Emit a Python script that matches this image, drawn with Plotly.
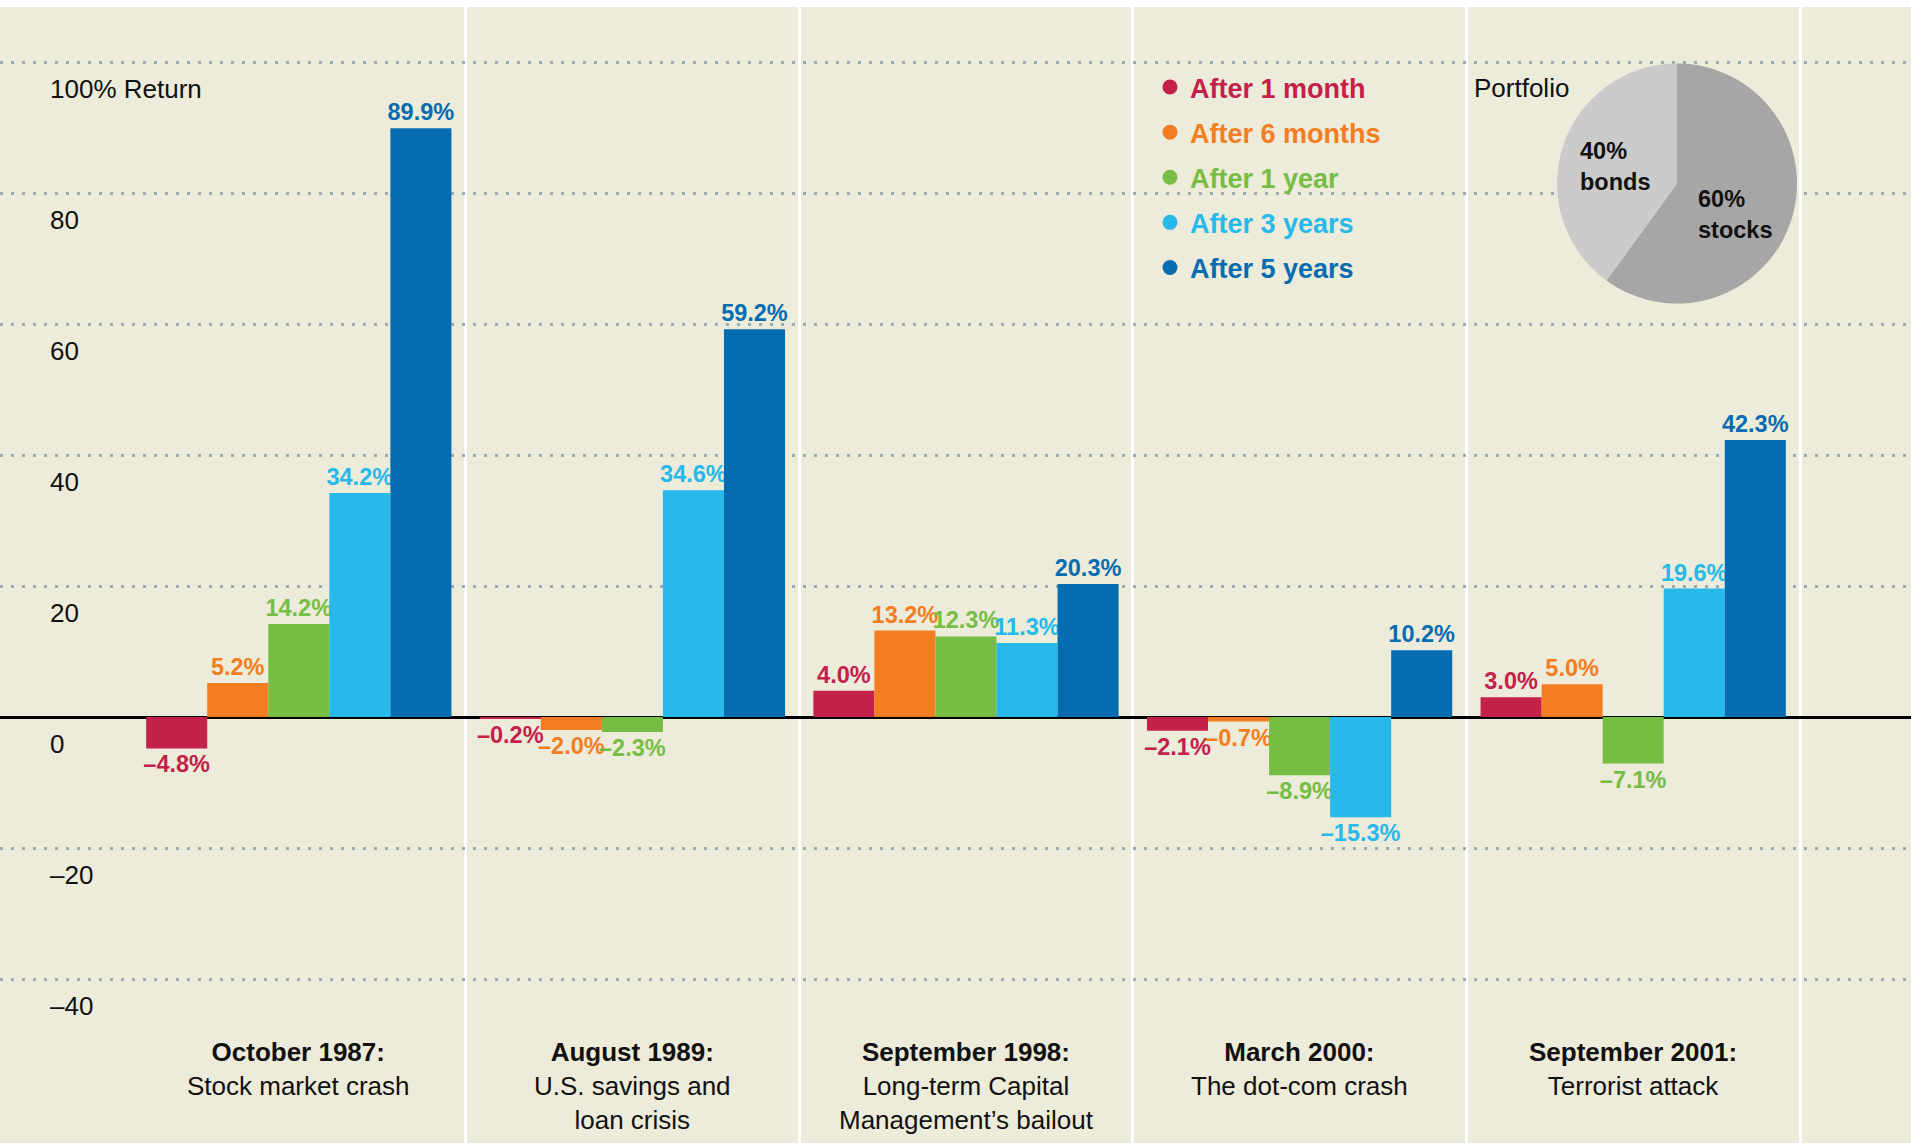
import plotly.graph_objects as go

# ---------------- data ----------------
events = ["October 1987:", "August 1989:", "September 1998:", "March 2000:", "September 2001:"]
event_desc = ["Stock market crash", "U.S. savings and<br>loan crisis",
              "Long-term Capital<br>Management’s bailout", "The dot-com crash", "Terrorist attack"]
series_names = ["After 1 month", "After 6 months", "After 1 year", "After 3 years", "After 5 years"]
after_1_month = [-4.8, -0.2, 4.0, -2.1, 3.0]
after_6_months = [5.2, -2.0, 13.2, -0.7, 5.0]
after_1_year = [14.2, -2.3, 12.3, -8.9, -7.1]
after_3_years = [34.2, 34.6, 11.3, -15.3, 19.6]
after_5_years = [89.9, 59.2, 20.3, 10.2, 42.3]
y_tickvals = [-40, -20, 0, 20, 40, 60, 80, 100]
y_ticktext = ["–40", "–20", "0", "20", "40", "60", "80", "100% Return"]
portfolio_labels = ["stocks", "bonds"]
portfolio_shares = [60, 40]

# ---------------- styles ----------------
series_values = [after_1_month, after_6_months, after_1_year, after_3_years, after_5_years]
series_colors = ["#C4204A", "#F37E21", "#76BE43", "#26B9EA", "#066CB2"]
pie_colors = ["#A6A6A6", "#CBCBCB"]
BG = "#EDEBD9"
FONT = "Liberation Sans, Arial, Helvetica, sans-serif"
W, H = 1911, 1144
MT, MB, ML, MR = 7, 1, 0, 0
PH = H - MT - MB


def px_x(px):
    return (px - ML) / (W - ML - MR)


def px_y(py):
    return (H - MB - py) / PH


def fmt(v):
    return f"{v:.1f}%".replace("-", "–")


fig = go.Figure()

for name, vals, col in zip(series_names, series_values, series_colors):
    fig.add_trace(go.Bar(
        x=events, y=vals, name=name, marker=dict(color=col, line=dict(width=0)),
        text=[fmt(v) for v in vals], textposition="outside", cliponaxis=False,
        textfont=dict(color=col, size=23.5, family=FONT, weight="bold"),
        constraintext="none", showlegend=False, hoverinfo="skip",
    ))

# legend entries with round dots
for i, (name, col) in enumerate(zip(series_names, series_colors)):
    fig.add_trace(go.Scatter(
        x=[None], y=[None], mode="markers", legendgroup=f"g{i}",
        marker=dict(symbol="circle", size=15, color=col),
        name=f"<span style='color:{col}'><b>{name}</b></span>",
        showlegend=True, hoverinfo="skip",
    ))

# portfolio pie
cx, cy, r = 1677, 183.5, 120
fig.add_trace(go.Pie(
    labels=portfolio_labels, values=portfolio_shares, sort=False, direction="clockwise",
    rotation=0, marker=dict(colors=pie_colors, line=dict(width=0)),
    textinfo="none", hoverinfo="skip", showlegend=False,
    domain=dict(x=[px_x(cx - r), px_x(cx + r)], y=[px_y(cy + r), px_y(cy - r)]),
))

annotations = []
# category labels
for ev, desc in zip(events, event_desc):
    annotations.append(dict(
        x=ev, xref="x", y=px_y(1035), yref="paper", yanchor="top", xanchor="center",
        text=f"<b>{ev}</b><br>{desc}", showarrow=False, align="center",
        font=dict(size=26, color="#111111", family=FONT),
    ))
# pie labels
pie_label_pos = {"bonds": (1578, 166), "stocks": (1696, 215)}
for lab, share in zip(portfolio_labels, portfolio_shares):
    lx, ly = pie_label_pos[lab]
    annotations.append(dict(
        x=px_x(lx), y=px_y(ly), xref="paper", yref="paper", xanchor="left", yanchor="middle",
        text=f"<b>{share}%<br>{lab}</b>", showarrow=False, align="left",
        font=dict(size=23.5, color="#111111", family=FONT),
    ))
annotations.append(dict(
    x=px_x(1472), y=px_y(88), xref="paper", yref="paper", xanchor="left", yanchor="middle",
    text="Portfolio", showarrow=False, font=dict(size=26, color="#111111", family=FONT),
))

zero_px = 717
ppu = 6.55
ymax = (zero_px - MT) / ppu
ymin = -(H - MB - zero_px) / ppu
cat_w = 333.6
x0 = -0.5 - (132 - ML) / cat_w
x1 = 4.5 + (W - MR - 1800) / cat_w

fig.update_layout(
    width=W, height=H,
    margin=dict(l=ML, r=MR, t=MT, b=MB, pad=0),
    paper_bgcolor="white", plot_bgcolor=BG,
    barmode="group", bargap=0.085, bargroupgap=0,
    font=dict(family=FONT, size=26, color="#111111"),
    showlegend=True,
    legend=dict(
        x=px_x(1150), y=px_y(63), xanchor="left", yanchor="top",
        bgcolor="rgba(0,0,0,0)", borderwidth=0, tracegroupgap=7,
        font=dict(size=27, family=FONT), itemclick=False, itemdoubleclick=False,
    ),
    xaxis=dict(
        type="category", categoryorder="array", categoryarray=events,
        range=[x0, x1], tickson="boundaries", showgrid=True, gridcolor="white",
        gridwidth=3, showticklabels=False, ticks="", zeroline=False, showline=False,
        fixedrange=True,
    ),
    yaxis=dict(
        range=[ymin, ymax], tickvals=y_tickvals, ticktext=y_ticktext,
        showgrid=True, gridcolor="#9AABB2", gridwidth=3, griddash="3px,8px",
        zeroline=True, zerolinecolor="black", zerolinewidth=2.5,
        ticks="", ticklabelposition="inside", ticklabelstandoff=47,
        ticklabelshift=27, tickfont=dict(size=26, color="#111111", family=FONT),
        showline=False, fixedrange=True,
    ),
    annotations=annotations,
)

fig.write_html("out.html", config={"displayModeBar": False},
               post_script="document.body.style.margin='0';document.body.style.overflow='hidden';")
